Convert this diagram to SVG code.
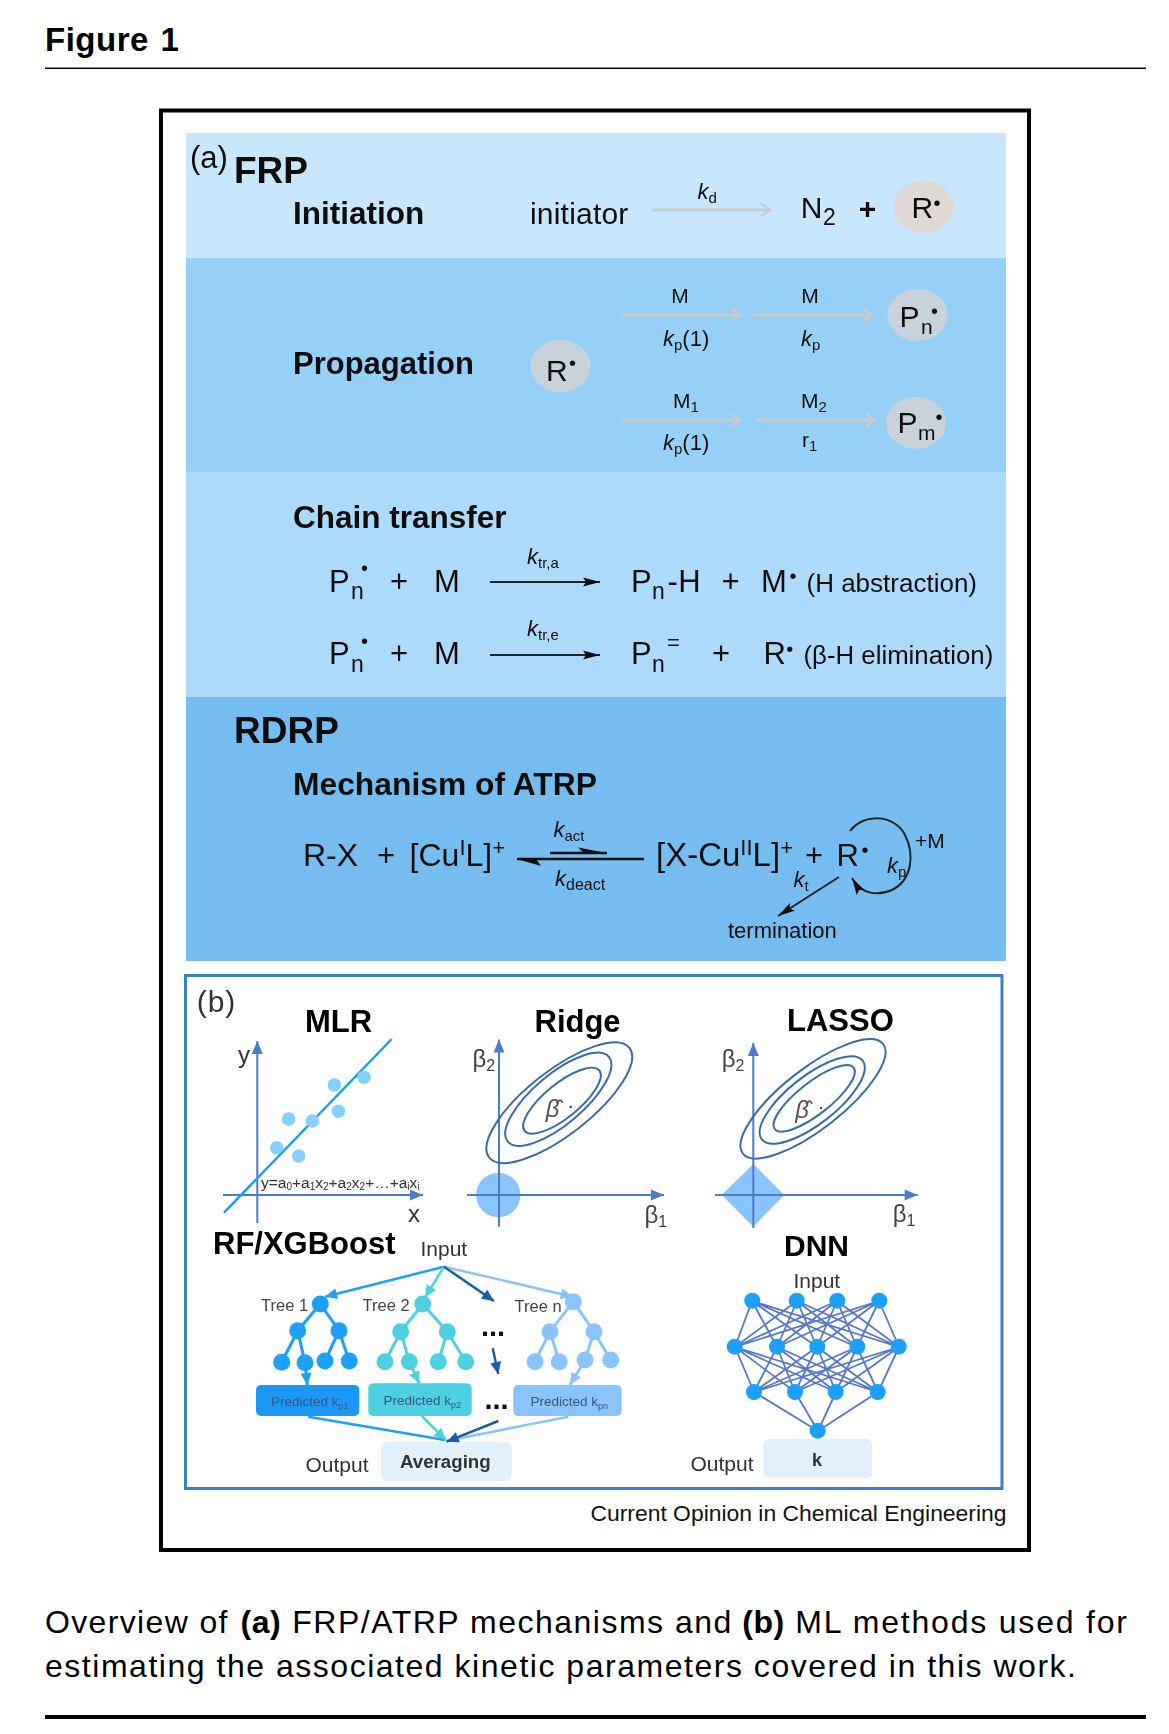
<svg xmlns="http://www.w3.org/2000/svg" width="1169" height="1734" viewBox="0 0 1169 1734">
<style>
text{font-family:"Liberation Sans",Arial,sans-serif;fill:#111}
.h{font-weight:700}
.t30{font-size:30px}.t31{font-size:31.5px;font-weight:700}.t37{font-size:37px;font-weight:700}
.sub{font-size:21px}.lab{font-size:21px}.k{font-size:22px;font-style:italic}.ks{font-size:15px;font-style:normal}
.chem{font-size:31px}.csub{font-size:23px}.sup{font-size:22px}
.dot{font-size:20px;text-anchor:middle}
.note{font-size:26px}
.ml{font-size:31px;font-weight:700;fill:#000}
.b{fill:#333}.g{font-size:24px;fill:#444}.gs{font-size:16px;fill:#444}
.ax{font-size:24px;fill:#333}
.hat{font-size:24px;font-style:italic;fill:#555}
.in{font-size:21px;fill:#333}
.tr{font-size:16.5px;fill:#444}
.pk{font-size:13.5px;fill:#34587e}.pks{font-size:9px;fill:#34587e}
.av{font-size:18.7px;font-weight:700;fill:#333}
.cap{font-size:32px;fill:#000}
.c{fill:none;stroke-linecap:butt}
.gray{stroke:#c9cccb;stroke-width:3;marker-end:url(#mg)}
.blk{stroke:#222;stroke-width:2;marker-end:url(#mb)}
.axis{stroke:#4a7cc9;stroke-width:2;marker-end:url(#ma)}
.ell{fill:none;stroke:#3a6ba8;stroke-width:2}
.t1{fill:#1aa0fa}.t2{fill:#4dd0e1}.tn{fill:#8ac4fd}
.e1{stroke:#1aa0fa;stroke-width:3;fill:none}.e2{stroke:#4dd0e1;stroke-width:3;fill:none}.en{stroke:#8ac4fd;stroke-width:3;fill:none}
</style>
<defs>
<filter id="soft" filterUnits="userSpaceOnUse" x="0" y="0" width="1169" height="1734"><feGaussianBlur stdDeviation="0.5"/></filter>
<marker id="mg" markerUnits="userSpaceOnUse" markerWidth="12" markerHeight="16" refX="10" refY="7" orient="auto" overflow="visible"><path d="M1,0.5L10,7L1,13.5" fill="none" stroke="#c9cccb" stroke-width="2.5"/></marker>
<marker id="mb" markerUnits="userSpaceOnUse" markerWidth="18" markerHeight="10" refX="17" refY="4.5" orient="auto" overflow="visible"><path d="M0,0L17,4.5L0,9L3,4.5Z" fill="#111"/></marker>
<marker id="ma" markerUnits="userSpaceOnUse" markerWidth="13" markerHeight="12" refX="13" refY="5.5" orient="auto" overflow="visible"><path d="M0,0L13,5.5L0,11Z" fill="#4a7cc9"/></marker>
<marker id="m1" markerUnits="userSpaceOnUse" markerWidth="13" markerHeight="12" refX="12" refY="5.5" orient="auto" overflow="visible"><path d="M0,0L12,5.5L0,11Z" fill="#1aa0fa"/></marker>
<marker id="m2" markerUnits="userSpaceOnUse" markerWidth="13" markerHeight="12" refX="12" refY="5.5" orient="auto" overflow="visible"><path d="M0,0L12,5.5L0,11Z" fill="#4dd0e1"/></marker>
<marker id="mn" markerUnits="userSpaceOnUse" markerWidth="13" markerHeight="12" refX="12" refY="5.5" orient="auto" overflow="visible"><path d="M0,0L12,5.5L0,11Z" fill="#8ac4fd"/></marker>
<marker id="md" markerUnits="userSpaceOnUse" markerWidth="13" markerHeight="12" refX="12" refY="5.5" orient="auto" overflow="visible"><path d="M0,0L12,5.5L0,11Z" fill="#1a5fa8"/></marker>
</defs>
<rect width="1169" height="1734" fill="#fff"/>
<g id="header">
<text x="45" y="51" font-size="33" class="h" style="fill:#000;letter-spacing:0.5px;word-spacing:2px">Figure 1</text>
<rect x="45" y="67.5" width="1101" height="1.5" fill="#000"/>
</g>
<rect id="frame" x="161" y="110.5" width="868" height="1439.5" fill="none" stroke="#000" stroke-width="4"/>
<g id="figure" filter="url(#soft)">
<g id="bands">
<rect x="186" y="133" width="820" height="125" fill="#c8e6fc"/>
<rect x="186" y="258" width="820" height="214" fill="#97d0f6"/>
<rect x="186" y="472" width="820" height="225" fill="#aedaf9"/>
<rect x="186" y="697" width="820" height="264" fill="#74bdf1"/>
<rect x="185.5" y="975.5" width="816.5" height="513" fill="#fff" stroke="#3d80c0" stroke-width="3"/>
</g>
<g id="fills">
<circle cx="498.3" cy="1195" r="22.2" fill="#8ac4fd"/>
<path d="M753.3,1164L784.3,1195L753.3,1226.7L721.7,1195Z" fill="#8ac4fd"/>
<rect x="256" y="1385" width="103.3" height="31" rx="5" fill="#1a97f5"/>
<rect x="368.3" y="1383.3" width="103.4" height="32.7" rx="5" fill="#4dd0e1"/>
<rect x="513.3" y="1385" width="108.4" height="31" rx="5" fill="#8ac4fd"/>
<rect x="381" y="1441.7" width="130.7" height="39.3" rx="6" fill="#e1f0fb"/>
<rect x="763.3" y="1439" width="109" height="39.3" rx="6" fill="#e1f0fb"/>
</g>
<g id="connectors" class="c">
<path class="gray" d="M652,210H770"/>
<path class="gray" d="M622,315H740"/><path class="gray" d="M753.5,315H872"/>
<path class="gray" d="M622,420H740"/><path class="gray" d="M757,420H875"/>
<path class="blk" d="M490,582H600"/><path class="blk" d="M490,655H600"/>
<path d="M550,853H607M517,859H644" stroke="#111" stroke-width="2.5"/>
<path d="M607,853L578,847.5L584,853Z M517,859L541,866L536,859Z" fill="#111"/>
<path class="blk" d="M850,831C865,812 895,815 905,835C915,855 912,880 892,890C878,896 862,895 852,878"/>
<path class="blk" d="M839,877L778,916"/>
<path class="axis" d="M257.3,1223V1041"/><path class="axis" d="M223,1195H423"/>
<path d="M224,1212.7L391.7,1039" stroke="#1e9bf0" stroke-width="2.5"/>
<path class="axis" d="M499,1226.7V1039.5"/><path class="axis" d="M467,1195H664"/>
<path class="axis" d="M753.3,1228V1043"/><path class="axis" d="M715,1195H917.7"/>
<path d="M444,1266.7L325,1296.7" stroke="#1aa0fa" stroke-width="2.5" marker-end="url(#m1)"/>
<path d="M444,1266.7L425,1297.3" stroke="#4dd0e1" stroke-width="2.5" marker-end="url(#m2)"/>
<path d="M444,1266.7L572.7,1296.7" stroke="#8ac4fd" stroke-width="2.5" marker-end="url(#mn)"/>
<path d="M444,1266.7L494,1301" stroke="#1a5fa8" stroke-width="2.5" marker-end="url(#md)"/>
<path class="e1" d="M320.3,1304L297.7,1330.7L281.7,1362.3M297.7,1330.7L305,1362.7M320.3,1304L339,1330.7L325,1361M339,1330.7L349.3,1361"/>
<path class="e1" d="M305,1362.7L307.3,1385" marker-end="url(#m1)"/>
<path class="e2" d="M422.7,1304L400.7,1331.7L385,1361.7M400.7,1331.7L409.3,1361.7M422.7,1304L447.3,1331.7L438.3,1361.7M447.3,1331.7L465.7,1361.7"/>
<path class="e2" d="M409.3,1361.7L419.3,1383.5" marker-end="url(#m2)"/>
<path class="en" d="M573.3,1301.7L550,1331.7L535,1361.7M550,1331.7L559.3,1361.7M573.3,1301.7L594,1331.7L585,1360M594,1331.7L610.7,1360"/>
<path class="en" d="M585,1360L570,1385" marker-end="url(#mn)"/>
<path d="M492.7,1348.3L498.3,1374" stroke="#1a5fa8" stroke-width="2.5" marker-end="url(#md)"/>
<path d="M308.3,1416.7L445,1440" stroke="#1aa0fa" stroke-width="2.5"/>
<path d="M421.7,1416L446,1440" stroke="#4dd0e1" stroke-width="2.5" marker-end="url(#m2)"/>
<path d="M568.3,1416.7L446,1441" stroke="#8ac4fd" stroke-width="2.5"/>
<path d="M498.3,1421L446.7,1441.7" stroke="#1a5fa8" stroke-width="2.5" marker-end="url(#md)"/>
<path stroke="#5478c8" stroke-width="1.8" d="M752 1301L735 1347M752 1301L777 1347M752 1301L817 1347M752 1301L857 1347M752 1301L899 1347M797 1301L735 1347M797 1301L777 1347M797 1301L817 1347M797 1301L857 1347M797 1301L899 1347M837 1301L735 1347M837 1301L777 1347M837 1301L817 1347M837 1301L857 1347M837 1301L899 1347M879 1301L735 1347M879 1301L777 1347M879 1301L817 1347M879 1301L857 1347M879 1301L899 1347M735 1347L754 1392M735 1347L795 1392M735 1347L836 1392M735 1347L878 1392M777 1347L754 1392M777 1347L795 1392M777 1347L836 1392M777 1347L878 1392M817 1347L754 1392M817 1347L795 1392M817 1347L836 1392M817 1347L878 1392M857 1347L754 1392M857 1347L795 1392M857 1347L836 1392M857 1347L878 1392M899 1347L754 1392M899 1347L795 1392M899 1347L836 1392M899 1347L878 1392M754 1392L818 1431M795 1392L818 1431M836 1392L818 1431M878 1392L818 1431"/>
</g>
<g id="node-frp">
<text x="190" y="168" font-size="31">(a)</text>
<text x="234" y="183" class="t37">FRP</text>
<text x="293" y="224" class="t31">Initiation</text>
<text x="530" y="224" class="t30" style="letter-spacing:0.2px">initiator</text>
<text x="697.5" y="199" class="k">k<tspan class="ks" dy="4">d</tspan></text>
<text x="800.7" y="218" class="t30">N</text><text x="823" y="225" class="sup" style="font-size:23px">2</text>
<text x="867.5" y="219" class="t30 h" text-anchor="middle">+</text>
</g>
<g id="node-r-init">
<ellipse cx="923.6" cy="207" rx="30" ry="26" fill="#e0d8d4"/>
<text x="911.6" y="218" class="t30">R</text><text x="937" y="210" class="dot">•</text>
</g>
<g id="node-propagation">
<text x="293" y="374" class="t31" style="font-size:31px">Propagation</text>
<text x="680" y="303" class="lab" text-anchor="middle">M</text>
<text x="810" y="303" class="lab" text-anchor="middle">M</text>
<text x="663" y="346" class="k">k<tspan class="ks" dy="4">p</tspan><tspan font-style="normal" dy="-4">(1)</tspan></text>
<text x="801" y="346" class="k">k<tspan class="ks" dy="4">p</tspan></text>
<text x="673" y="408" class="lab">M<tspan class="ks" dy="4">1</tspan></text>
<text x="801" y="408" class="lab">M<tspan class="ks" dy="4">2</tspan></text>
<text x="663" y="449.5" class="k">k<tspan class="ks" dy="4">p</tspan><tspan font-style="normal" dy="-4">(1)</tspan></text>
<text x="802" y="446.5" class="lab">r<tspan class="ks" dy="4">1</tspan></text>
</g>
<g id="node-r-prop">
<ellipse cx="560.4" cy="366" rx="30" ry="26" fill="#c7d2da"/>
<text x="546" y="381" class="t30">R</text><text x="572.5" y="370" class="dot">•</text>
</g>
<g id="node-pn">
<ellipse cx="917.6" cy="315" rx="30" ry="26" fill="#c7d2da"/>
<text x="899.500" y="327" class="t30">P</text><text x="921" y="334" class="sub">n</text><text x="934.6" y="317.7" class="dot">•</text>
</g>
<g id="node-pm">
<ellipse cx="916" cy="422.7" rx="30" ry="26" fill="#c7d2da"/>
<text x="897.500" y="432.7" class="t30">P</text><text x="918" y="440" class="sub">m</text><text x="939" y="423.7" class="dot">•</text>
</g>
<g id="node-chain-transfer">
<text x="293" y="527.5" class="t31">Chain transfer</text>
<text x="329" y="591.7" class="chem">P</text><text x="351" y="599" class="csub">n</text><text x="364.6" y="575" class="dot">•</text>
<text x="399" y="592" class="chem" text-anchor="middle">+</text>
<text x="434" y="592" class="chem">M</text>
<text x="527" y="563.5" class="k">k<tspan class="ks" dy="4">tr,a</tspan></text>
<text x="631" y="592" class="chem">P</text><text x="652" y="599" class="csub">n</text><text x="667.500" y="592" class="chem" style="letter-spacing:0.5px">-H</text>
<text x="730.5" y="592" class="chem" text-anchor="middle">+</text>
<text x="761" y="592" class="chem">M</text><text x="793" y="582.7" class="dot">•</text>
<text x="806.500" y="592" class="note">(H abstraction)</text>
<text x="329" y="664" class="chem">P</text><text x="351" y="671.7" class="csub">n</text><text x="364.600" y="648" class="dot">•</text>
<text x="399" y="664" class="chem" text-anchor="middle">+</text>
<text x="434" y="664" class="chem">M</text>
<text x="527" y="636" class="k">k<tspan class="ks" dy="4">tr,e</tspan></text>
<text x="631" y="664" class="chem">P</text><text x="652" y="671.7" class="csub">n</text><text x="667" y="650" class="sup">=</text>
<text x="721" y="664" class="chem" text-anchor="middle">+</text>
<text x="763.5" y="664" class="chem">R</text><text x="789.7" y="656" class="dot">•</text>
<text x="803.5" y="664" class="note" style="font-size:25.8px">(β-H elimination)</text>
</g>
<g id="node-rdrp">
<text x="234" y="743" class="t37">RDRP</text>
<text x="293" y="795" class="t31" style="font-size:31.8px">Mechanism of ATRP</text>
<text x="303" y="866" class="chem" style="font-size:32px">R-X</text>
<text x="386" y="866" class="chem" text-anchor="middle">+</text>
<text x="409.6" y="866" class="chem" style="font-size:32px">[Cu<tspan class="sup" dy="-11">I</tspan><tspan dy="11">L]</tspan><tspan class="sup" dy="-11">+</tspan></text>
<text x="553.5" y="836.7" class="k">k<tspan class="ks" dy="4">act</tspan></text>
<text x="555" y="886" class="k">k<tspan class="ks" dy="4" style="font-size:16px">deact</tspan></text>
<text x="656" y="866" class="chem" style="font-size:33px">[X-Cu<tspan class="sup" dy="-11">II</tspan><tspan dy="11">L]</tspan><tspan class="sup" dy="-11">+</tspan></text>
<text x="814" y="866" class="chem" text-anchor="middle">+</text>
<text x="836.5" y="866" class="chem">R</text><text x="865" y="857" class="dot">•</text>
<text x="915" y="848" class="sup" style="font-size:21px">+M</text>
<text x="887" y="872.7" class="k">k<tspan class="ks" dy="4">p</tspan></text>
<text x="793.6" y="887" class="k">k<tspan class="ks" dy="4">t</tspan></text>
<text x="728" y="938" class="sup">termination</text>
</g>
<g id="node-mlr">
<text x="196.7" y="1011.7" font-size="30" class="b" style="letter-spacing:1px">(b)</text>
<text x="305" y="1032" class="ml">MLR</text>
<text x="238" y="1063" class="ax">y</text><text x="408" y="1221.7" class="ax">x</text>
<g fill="#86d0fb"><circle cx="276.7" cy="1147.7" r="6.8"/><circle cx="298.7" cy="1156" r="6.8"/><circle cx="288.7" cy="1119" r="6.8"/><circle cx="312.3" cy="1121" r="6.8"/><circle cx="338.3" cy="1111.3" r="6.8"/><circle cx="334.3" cy="1085" r="6.8"/><circle cx="364" cy="1077.3" r="6.8"/></g>
<text x="261" y="1188.3" font-size="15.5" class="b">y=a<tspan font-size="10" dy="2">0</tspan><tspan dy="-2">+a</tspan><tspan font-size="10" dy="2">1</tspan><tspan dy="-2">x</tspan><tspan font-size="10" dy="2">2</tspan><tspan dy="-2">+a</tspan><tspan font-size="10" dy="2">2</tspan><tspan dy="-2">x</tspan><tspan font-size="10" dy="2">2</tspan><tspan dy="-2">+…+a</tspan><tspan font-size="10" dy="2">i</tspan><tspan dy="-2">x</tspan><tspan font-size="10" dy="2">i</tspan></text>
</g>
<g id="node-ridge">
<text x="534.5" y="1032" class="ml">Ridge</text>
<ellipse class="ell" cx="559.3" cy="1102.7" rx="89" ry="32" transform="rotate(-38 559.3 1102.7)"/>
<ellipse class="ell" cx="558.3" cy="1099.3" rx="66" ry="25" transform="rotate(-40 558.3 1099.3)"/>
<ellipse class="ell" cx="562" cy="1100.7" rx="48" ry="17" transform="rotate(-39 562 1100.7)"/>
<text x="472.5" y="1066.7" class="g">β<tspan class="gs" dy="4">2</tspan></text>
<text x="644.5" y="1223" class="g">β<tspan class="gs" dy="4">1</tspan></text>
<text x="545.7" y="1116.7" class="hat">β̂</text><circle cx="570.7" cy="1107" r="1.2" fill="#444"/>
</g>
<g id="node-lasso">
<text x="787" y="1031" class="ml">LASSO</text>
<ellipse class="ell" cx="813" cy="1098.8" rx="89" ry="30" transform="rotate(-38 813 1098.8)"/>
<ellipse class="ell" cx="812.2" cy="1100" rx="64" ry="24" transform="rotate(-38 812.2 1100)"/>
<ellipse class="ell" cx="814.2" cy="1098.3" rx="50" ry="16" transform="rotate(-38 814.2 1098.3)"/>
<text x="721.8" y="1066.7" class="g">β<tspan class="gs" dy="4">2</tspan></text>
<text x="892.8" y="1221.7" class="g">β<tspan class="gs" dy="4">1</tspan></text>
<text x="795.3" y="1118" class="hat">β̂</text><circle cx="821" cy="1108" r="1.2" fill="#444"/>
</g>
<g id="node-rf">
<text x="213" y="1254.3" class="ml">RF/XGBoost</text>
<text x="420.5" y="1255.7" class="in">Input</text>
<text x="261" y="1310.7" class="tr">Tree 1</text>
<text x="362.5" y="1310.7" class="tr">Tree 2</text>
<text x="514.5" y="1312.3" class="tr">Tree n</text>
<g class="t1"><circle cx="320.3" cy="1304" r="8.5"/><circle cx="297.7" cy="1330.7" r="8.5"/><circle cx="339" cy="1330.7" r="8.5"/><circle cx="281.7" cy="1362.3" r="8.5"/><circle cx="305" cy="1362.7" r="8.5"/><circle cx="325" cy="1361" r="8.5"/><circle cx="349.3" cy="1361" r="8.5"/></g>
<g class="t2"><circle cx="422.7" cy="1304" r="8.5"/><circle cx="400.7" cy="1331.7" r="8.5"/><circle cx="447.3" cy="1331.7" r="8.5"/><circle cx="385" cy="1361.7" r="8.5"/><circle cx="409.3" cy="1361.7" r="8.5"/><circle cx="438.3" cy="1361.7" r="8.5"/><circle cx="465.7" cy="1361.7" r="8.5"/></g>
<g class="tn"><circle cx="573.3" cy="1301.7" r="8.5"/><circle cx="550" cy="1331.7" r="8.5"/><circle cx="594" cy="1331.7" r="8.5"/><circle cx="535" cy="1361.7" r="8.5"/><circle cx="559.3" cy="1361.7" r="8.5"/><circle cx="585" cy="1360" r="8.5"/><circle cx="610.7" cy="1360" r="8.5"/></g>
<text x="481" y="1336" font-size="29" class="h">...</text>
<text x="484.5" y="1409" font-size="29" class="h">...</text>
<text x="271" y="1406" class="pk">Predicted k<tspan class="pks" dy="3">p1</tspan></text>
<text x="383.5" y="1405" class="pk">Predicted k<tspan class="pks" dy="3">p2</tspan></text>
<text x="530.5" y="1406" class="pk">Predicted k<tspan class="pks" dy="3">pn</tspan></text>
<text x="305.5" y="1471.7" class="in">Output</text>
<text x="400" y="1468.3" class="av">Averaging</text>
</g>
<g id="node-dnn">
<text x="784" y="1255.7" class="ml" style="font-size:30px">DNN</text>
<text x="793.5" y="1287.7" class="in">Input</text>
<g class="t1">
<circle cx="752.3" cy="1300.7" r="8"/><circle cx="796.7" cy="1300.7" r="8"/><circle cx="837.3" cy="1300.7" r="8"/><circle cx="879.3" cy="1300.7" r="8"/>
<circle cx="734.7" cy="1346.7" r="8"/><circle cx="777" cy="1346.7" r="8"/><circle cx="817.3" cy="1346.7" r="8"/><circle cx="857.3" cy="1346.7" r="8"/><circle cx="898.7" cy="1346.7" r="8"/>
<circle cx="754" cy="1392" r="8"/><circle cx="795" cy="1392" r="8"/><circle cx="835.7" cy="1392" r="8"/><circle cx="877.7" cy="1392" r="8"/>
<circle cx="817.7" cy="1430.7" r="8"/>
</g>
<text x="690.5" y="1471" class="in">Output</text>
<text x="817" y="1466" class="av" style="font-size:18px" text-anchor="middle">k</text>
</g>
</g>
<g id="caption">
<text x="1006.500" y="1520.500" font-size="22.9" text-anchor="end" fill="#222">Current Opinion in Chemical Engineering</text>
<text x="45" y="1632.7" class="cap" style="letter-spacing:1.35px">Overview of <tspan class="h" x="240.5" style="letter-spacing:0.5px">(a)</tspan> <tspan x="292.3" style="letter-spacing:1.5px">FRP/ATRP mechanisms and</tspan> <tspan class="h" x="742.3" style="letter-spacing:0.5px">(b)</tspan> <tspan x="795.2" style="letter-spacing:1.8px">ML methods used for</tspan></text>
<text x="45" y="1677.3" class="cap" textLength="1031">estimating the associated kinetic parameters covered in this work.</text>
<rect x="45" y="1715" width="1101" height="4" fill="#000"/>
</g>
</svg>
